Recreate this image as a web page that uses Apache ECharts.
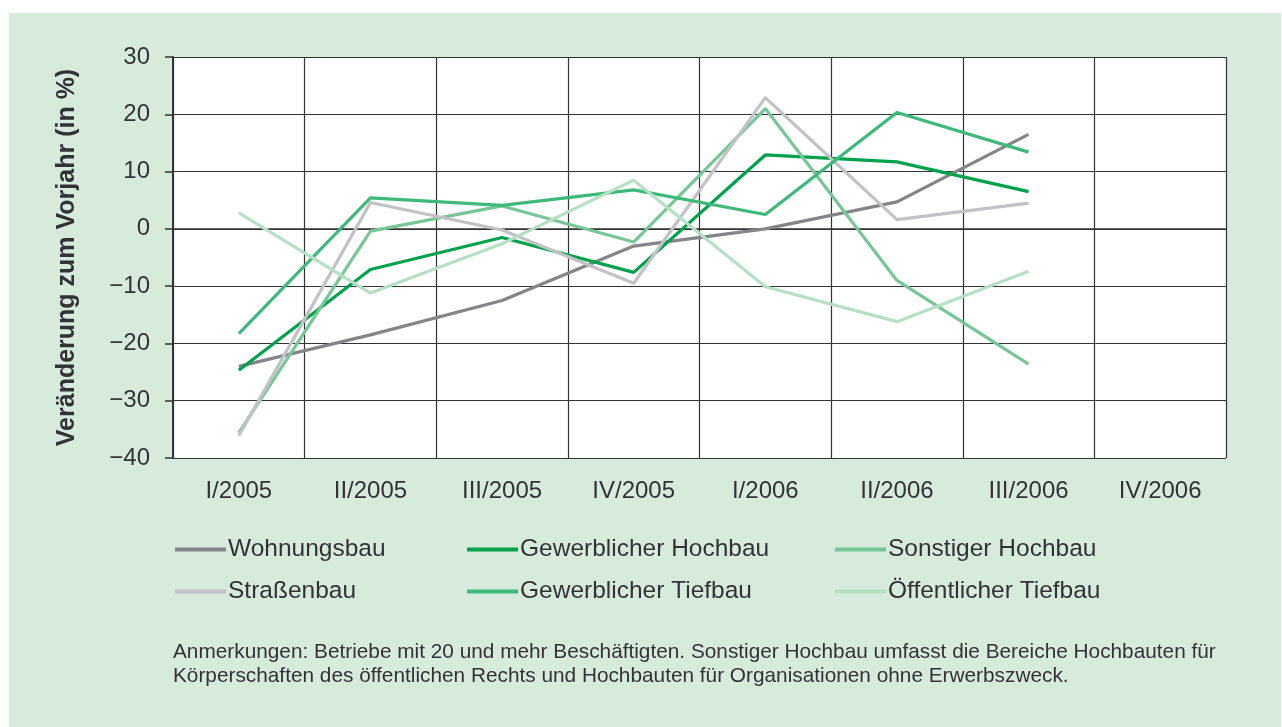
<!DOCTYPE html>
<html>
<head>
<meta charset="utf-8">
<style>
  html, body { margin: 0; padding: 0; background: #fff; }
  #chart { width: 1282px; height: 727px; }
</style>
<script src="https://cdn.jsdelivr.net/npm/echarts@6/dist/echarts.min.js"></script>
</head>
<body>
<div id="chart"></div>
<script>
// Quartale
const quarters = ['I/2005', 'II/2005', 'III/2005', 'IV/2005', 'I/2006', 'II/2006', 'III/2006', 'IV/2006']

// Veränderung zum Vorjahr in %
const wohnungsbau = [-24.0, -18.5, -12.5, -3.0, 0.0, 4.7, 16.5, null]
const gewHochbau = [-24.7, -7.1, -1.5, -7.6, 12.9, 11.7, 6.5, null]
const sonstHochbau = [-35.6, -0.4, 4.0, -2.3, 21.0, -9.0, -23.6, null]
const strassenbau = [-36.1, 4.6, -0.2, -9.5, 22.9, 1.6, 4.5, null]
const gewTiefbau = [-18.3, 5.4, 4.1, 6.8, 2.5, 20.3, 13.4, null]
const oeffTiefbau = [2.8, -11.2, -2.6, 8.5, -10.1, -16.2, -7.4, null]

const yTicks = [-40, -30, -20, -10, 0, 10, 20, 30]

const font = '"Liberation Sans", Arial, Helvetica, sans-serif'
const textColor = '#333333'

const line = (name, data, color) => ({
  name: name,
  type: 'line',
  data: data,
  symbol: 'none',
  lineStyle: { width: 3.2, color: color },
  itemStyle: { color: color }
})

const legendBase = {
  orient: 'vertical',
  icon: 'rect',
  itemWidth: 51,
  itemHeight: 4,
  itemGap: 17,
  top: 537,
  padding: 0,
  textStyle: { fontFamily: font, fontSize: 24.5, color: textColor, lineHeight: 24, padding: [0, 0, 0, -3] }
}

const chart = echarts.init(document.getElementById('chart'))
chart.setOption({
  animation: false,
  backgroundColor: '#ffffff',
  graphic: [
    {
      type: 'rect',
      z: -10,
      shape: { x: 9, y: 13, width: 1272, height: 714 },
      style: { fill: '#d7ebdd' }
    },
    {
      type: 'text',
      left: 173,
      top: 640,
      style: {
        text: 'Anmerkungen: Betriebe mit 20 und mehr Beschäftigten. Sonstiger Hochbau umfasst die Bereiche Hochbauten für\nKörperschaften des öffentlichen Rechts und Hochbauten für Organisationen ohne Erwerbszweck.',
        font: '20.8px ' + font,
        fill: textColor,
        lineHeight: 24
      }
    }
  ],
  grid: {
    left: 173,
    right: 56,
    top: 57,
    bottom: 269,
    show: true,
    backgroundColor: '#ffffff',
    borderWidth: 0
  },
  legend: [
    Object.assign({}, legendBase, { left: 175, data: ['Wohnungsbau', 'Straßenbau'] }),
    Object.assign({}, legendBase, { left: 467, data: ['Gewerblicher Hochbau', 'Gewerblicher Tiefbau'] }),
    Object.assign({}, legendBase, { left: 835, data: ['Sonstiger Hochbau', 'Öffentlicher Tiefbau'] })
  ],
  xAxis: {
    type: 'category',
    data: quarters,
    boundaryGap: true,
    axisLine: { show: true, lineStyle: { color: '#333', width: 1.5 } },
    axisTick: { show: false },
    axisLabel: { margin: 21, fontFamily: font, fontSize: 24, color: textColor },
    splitLine: { show: true, interval: 0, lineStyle: { color: '#333', width: 1.2 } }
  },
  yAxis: {
    type: 'value',
    min: yTicks[0],
    max: yTicks[yTicks.length - 1],
    interval: 10,
    name: 'Veränderung zum Vorjahr (in %)',
    nameLocation: 'middle',
    nameRotate: 90,
    nameGap: 93,
    nameTextStyle: { fontFamily: font, fontSize: 25, fontWeight: 'bold', color: textColor },
    axisLine: { show: true, lineStyle: { color: '#333', width: 2 } },
    axisTick: { show: true, inside: false, length: 8, lineStyle: { color: '#333', width: 1.5 } },
    axisLabel: {
      margin: 23,
      fontFamily: font,
      fontSize: 24,
      color: textColor,
      formatter: v => (v < 0 ? '\u2212' + Math.abs(v) : String(v))
    },
    splitLine: { show: true, lineStyle: { color: '#333', width: 1.2 } }
  },
  series: [
    line('Wohnungsbau', wohnungsbau, '#848588'),
    line('Gewerblicher Hochbau', gewHochbau, '#00a24b'),
    line('Sonstiger Hochbau', sonstHochbau, '#76c795'),
    line('Straßenbau', strassenbau, '#c2c2c6'),
    line('Gewerblicher Tiefbau', gewTiefbau, '#3db97a'),
    line('Öffentlicher Tiefbau', oeffTiefbau, '#b5e0c3')
  ]
})
</script>
</body>
</html>
